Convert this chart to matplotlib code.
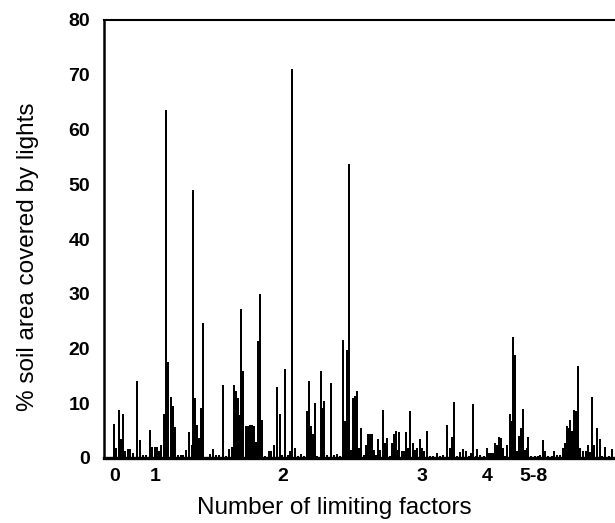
import numpy as np
import matplotlib
matplotlib.use("Agg")
import matplotlib.pyplot as plt

plt.rcParams['font.family'] = ['Liberation Sans', 'DejaVu Sans']

# (sample position in plot order, % soil area covered by lights)
spikes_0_1 = [(10, 6.3), (12, 1.8), (15, 8.8), (17, 3.4), (19, 8.1), (21, 1.2), (24, 1.7),
              (26, 1.7), (29, 0.9), (33, 14.1), (36, 3.2), (39, 0.5), (42, 0.5), (46, 5.1),
              (48, 2.1), (51, 2.0), (53, 2.0), (55, 1.2), (57, 2.4), (60, 8.0), (62, 63.5),
              (64, 17.5), (67, 11.2), (69, 9.5), (71, 5.6), (74, 0.6), (77, 0.6), (79, 0.6),
              (82, 1.5), (85, 4.7), (88, 2.4), (89, 49.0), (91, 10.9), (93, 6.0), (95, 3.7),
              (97, 9.1), (99, 24.7), (102, 0.2), (106, 0.8), (109, 1.6), (112, 0.5), (115, 0.5)]
spikes_2 = [(119, 13.4), (122, 0.3), (125, 1.7), (128, 2.1), (130, 13.4), (132, 12.2),
            (134, 11.0), (135, 7.9), (137, 27.2), (139, 15.9), (142, 5.9), (144, 5.9),
            (146, 6.1), (148, 6.0), (150, 5.9), (152, 3.0), (154, 21.3), (156, 29.9),
            (158, 7.0), (161, 0.3), (165, 1.2), (167, 1.2), (170, 2.4), (173, 13.0), (176, 8.1),
            (178, 0.6), (181, 16.2), (184, 0.5), (186, 1.2), (188, 71.0), (191, 1.8), (194, 0.4),
            (197, 0.7), (200, 0.4), (203, 8.5), (205, 14.0), (207, 5.8), (209, 4.3), (211, 10.1),
            (213, 0.4), (217, 15.9), (218, 9.1), (220, 10.5), (223, 0.6), (227, 13.7), (230, 0.6),
            (233, 0.8), (236, 0.4), (239, 21.5), (241, 6.7), (243, 19.8), (245, 53.7), (247, 1.5),
            (249, 11.0), (251, 11.3), (253, 12.2), (255, 1.8), (257, 5.5)]
spikes_3 = [(260, 0.6), (262, 2.4), (264, 4.3), (266, 4.3), (268, 4.3), (270, 1.5), (272, 0.6),
            (274, 3.4), (276, 1.5), (279, 8.8), (281, 2.7), (283, 3.7), (286, 0.4), (288, 2.7),
            (290, 4.3), (292, 4.9), (294, 1.5), (295, 4.7), (298, 1.2), (300, 1.2), (302, 4.7),
            (304, 1.8), (306, 8.5), (309, 2.7), (311, 1.5), (313, 1.8), (316, 3.4), (318, 1.8),
            (320, 1.2), (323, 4.9), (326, 0.4), (329, 0.4), (333, 1.0), (336, 0.4), (339, 0.6),
            (343, 6.1), (346, 1.8), (348, 3.9), (350, 10.2), (353, 0.4)]
spikes_4 = [(356, 1.1), (359, 1.6), (362, 1.2), (365, 0.4), (367, 1.0), (369, 9.9), (372, 0.4),
            (373, 1.7), (376, 0.5), (380, 0.4), (383, 1.8), (385, 0.9), (387, 1.0), (389, 0.9),
            (391, 2.7), (393, 2.4), (395, 3.8), (397, 3.7), (399, 1.8), (401, 0.4), (403, 2.4),
            (406, 8.0), (408, 6.8), (409, 22.1), (411, 18.9), (413, 1.2), (415, 4.0), (417, 5.5),
            (419, 9.0), (421, 1.5), (423, 1.8), (424, 3.8)]
spikes_5_8 = [(427, 0.4), (431, 0.4), (434, 0.4), (436, 0.6), (439, 3.2), (441, 1.2), (444, 0.4),
              (448, 0.4), (450, 1.3), (453, 0.5), (456, 0.5), (459, 1.8), (461, 2.7), (463, 5.8),
              (465, 5.5), (466, 7.0), (468, 4.9), (470, 8.7), (472, 8.5), (474, 16.8), (476, 1.8),
              (479, 1.3), (482, 1.3), (484, 2.3), (486, 1.1), (488, 11.2), (490, 2.4), (493, 5.5),
              (496, 3.4), (498, 0.4), (501, 2.0), (505, 0.4), (508, 1.7)]

# group labels along the x axis
group_pos = [11, 51, 179, 318, 383, 429]
group_labels = ["0", "1", "2", "3", "4", "5-8"]
y_ticks = [0, 10, 20, 30, 40, 50, 60, 70, 80]

spikes = spikes_0_1 + spikes_2 + spikes_3 + spikes_4 + spikes_5_8
positions = [p for p, v in spikes]
soil_cover = [v for p, v in spikes]

fig = plt.figure(figsize=(6.15, 5.23), dpi=100)
ax = fig.add_axes([104 / 615, 65 / 523, 514 / 615, 438 / 523])

ax.bar(positions, soil_cover, width=2.6, color="black", linewidth=0)

ax.set_xlim(0, 514)
ax.set_ylim(0, 80)
ax.set_xticks(group_pos)
ax.set_xticklabels(group_labels)
ax.set_yticks(y_ticks)
ax.tick_params(axis="y", length=0, pad=10, labelsize=14)
ax.tick_params(axis="x", length=0, pad=7, labelsize=14)
for lab in ax.get_xticklabels() + ax.get_yticklabels():
    lab.set_fontweight("bold")

ax.spines["right"].set_visible(False)
ax.spines["bottom"].set_linewidth(2.4)
ax.spines["left"].set_linewidth(1.8)
ax.spines["top"].set_linewidth(1.5)

fig.text(334 / 615, 1 - 508 / 523, "Number of limiting factors",
         ha="center", va="center", fontsize=17.5)
fig.text(28 / 615, 1 - 257 / 523, "% soil area covered by lights",
         ha="center", va="center", rotation=90, fontsize=17.5)

fig.savefig("out.png", dpi=100)
